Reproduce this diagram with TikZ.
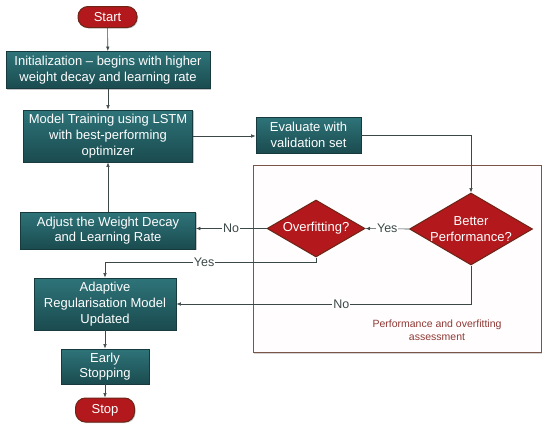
\documentclass[tikz,border=0pt]{standalone}
\usepackage{fontspec}
\setmainfont{Liberation Sans}
\usetikzlibrary{shapes.geometric,arrows.meta,shadows}
\definecolor{tealtop}{HTML}{2E7479}
\definecolor{tealbot}{HTML}{1A4B4F}
\definecolor{tealline}{HTML}{163A3D}
\definecolor{redfill}{HTML}{B3191C}
\definecolor{redline}{HTML}{6B2416}
\definecolor{frameline}{HTML}{7A5548}
\definecolor{framefill}{HTML}{FFFDFD}
\definecolor{wire}{HTML}{3C4848}
\definecolor{notecol}{HTML}{8E3A36}
\tikzset{
  proc/.style={draw=tealline, line width=0.8pt, top color=tealtop,
    bottom color=tealbot, text=white, align=center, inner sep=0pt,
    font=\fontsize{13}{15.7}\selectfont,
    drop shadow={shadow xshift=1.2pt, shadow yshift=-1.2pt, opacity=0.45}},
  term/.style={draw=redline, line width=1pt, fill=redfill, text=white,
    rounded corners=10pt, inner sep=0pt, font=\fontsize{13}{15}\selectfont,
    drop shadow={shadow xshift=1pt, shadow yshift=-1pt, opacity=0.4}},
  dec/.style={diamond, draw=redline, line width=1pt, fill=redfill,
    text=white, align=center, inner sep=-1pt, shape aspect=1.7,
    font=\fontsize{13}{15.7}\selectfont},
  wire/.style={draw=wire, line width=0.6pt,
    -{Latex[length=4.5pt,width=3.5pt]}},
  lab/.style={fill=white, text=wire, inner sep=1pt,
    font=\fontsize{12.5}{14}\selectfont}
}
\begin{document}
\begin{tikzpicture}[x=1pt, y=-1pt]
  \useasboundingbox (0,0) rectangle (550,431);
  % assessment frame
  \node[draw=frameline, line width=1pt, fill=framefill, minimum width=288pt,
    minimum height=187pt, inner sep=0pt,
    drop shadow={shadow xshift=1pt, shadow yshift=-1.5pt, opacity=0.35}]
    (frame) at (397,258.5) {};
  \node[text=notecol, align=center, font=\fontsize{10.5}{12.5}\selectfont]
    (note) at (437,330) {Performance and overfitting\\assessment};
  % main column
  \node[term, minimum width=59pt, minimum height=21pt] (start) at (107.5,17) {Start};
  \node[proc, minimum width=204pt, minimum height=37pt] (init) at (108,70)
    {Initialization -- begins with higher\\weight decay and learning rate};
  \node[proc, minimum width=169pt, minimum height=52pt] (train) at (108,136)
    {Model Training using LSTM\\with best-performing\\optimizer};
  \node[proc, minimum width=105pt, minimum height=36pt] (eval) at (308.5,135)
    {Evaluate with\\validation set};
  \node[proc, minimum width=175pt, minimum height=37pt] (adjust) at (108,230.5)
    {Adjust the Weight Decay\\and Learning Rate};
  \node[proc, minimum width=142pt, minimum height=52pt] (adapt) at (105,304)
    {Adaptive\\Regularisation Model\\Updated};
  \node[proc, minimum width=88pt, minimum height=35pt] (early) at (105,366.5)
    {Early\\Stopping};
  \node[term, minimum width=59pt, minimum height=24pt] (stop) at (105,410) {Stop};
  % decisions
  \node[dec, minimum width=98pt, minimum height=57pt] (over) at (316,228.5)
    {Overfitting?};
  \node[dec, minimum width=123pt, minimum height=72pt] (better) at (471,229)
    {Better\\Performance?};
  \coordinate (c1) at (over.south |- 0,262);
  \coordinate (c2) at (better.south |- 0,304);
  % connectors
  \draw[wire] (start) -- (init);
  \draw[wire] (init) -- (train);
  \draw[wire] (train.east) -- (eval.west |- train.east);
  \draw[wire] (eval.east) -| (better.north);
  \draw[wire] (better.west) -- node[lab] {Yes} (over.east);
  \draw[wire] (over.west) -- node[lab] {No} (adjust.east |- over.west);
  \draw[wire] (adjust) -- (train);
  \draw[wire] (over.south) -- (c1) -- node[lab, pos=0.53] {Yes} (adapt.north |- c1)
    -- (adapt.north);
  \draw[wire] (better.south) -- (c2) -- node[lab, pos=0.44] {No} (adapt.east |- c2);
  \draw[wire] (adapt) -- (early);
  \draw[wire] (early) -- (stop);
\end{tikzpicture}
\end{document}
